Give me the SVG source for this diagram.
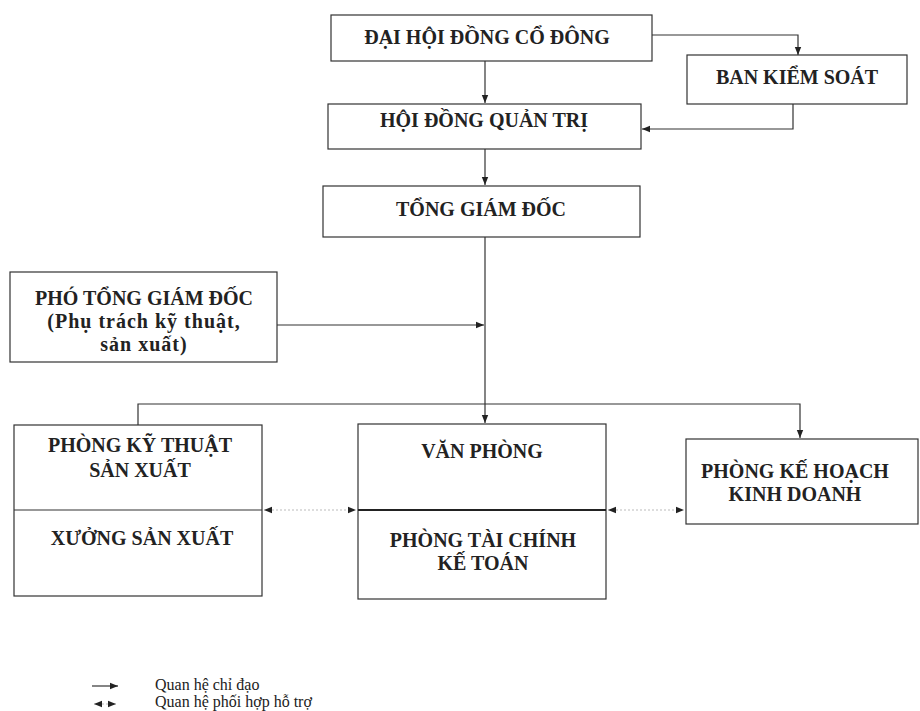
<svg xmlns="http://www.w3.org/2000/svg" width="920" height="711" viewBox="0 0 920 711">
<style>
.box{fill:#fff;stroke:#333;stroke-width:1.2}
.t{font-family:"Liberation Serif","DejaVu Serif",serif;font-weight:bold;font-size:20px;fill:#222;text-anchor:middle}
.l{font-family:"Liberation Serif","DejaVu Serif",serif;font-size:16px;fill:#222}
.c{fill:none;stroke:#333;stroke-width:1.2}
.d{fill:none;stroke:#bbb;stroke-width:1;stroke-dasharray:2 2}
</style>
<defs>
<marker id="a" viewBox="0 0 10 10" refX="10" refY="5" markerWidth="8" markerHeight="8" markerUnits="userSpaceOnUse" orient="auto"><path d="M0,1 L10,5 L0,9 Z" fill="#222"/></marker>
<marker id="s" viewBox="0 0 10 10" refX="0" refY="5" markerWidth="8" markerHeight="8" markerUnits="userSpaceOnUse" orient="auto"><path d="M10,1 L0,5 L10,9 Z" fill="#222"/></marker>
</defs>
<rect width="920" height="711" fill="#fff"/>
<g id="connectors">
<path class="c" d="M485,61 V103" marker-end="url(#a)"/>
<path class="c" d="M652,35 H798 V55" marker-end="url(#a)"/>
<path class="c" d="M793,104 V129 H642" marker-end="url(#a)"/>
<path class="c" d="M485,149 V185" marker-end="url(#a)"/>
<path class="c" d="M485,237 V423" marker-end="url(#a)"/>
<path class="c" d="M277,325 H484" marker-end="url(#a)"/>
<path class="c" d="M138,425 V404 H800 V438" marker-end="url(#a)"/>
<path class="d" d="M264,510 H356" marker-start="url(#s)" marker-end="url(#a)"/>
<path class="d" d="M608,510 H684" marker-start="url(#s)" marker-end="url(#a)"/>
</g>
<g id="dhdcd"><rect class="box" x="331" y="15" width="321" height="46"/><text class="t" x="487" y="44">ĐẠI HỘI ĐỒNG CỔ ĐÔNG</text></g>
<g id="bks"><rect class="box" x="687" y="55" width="220" height="49"/><text class="t" x="797" y="84">BAN KIỂM SOÁT</text></g>
<g id="hdqt"><rect class="box" x="328" y="104" width="313" height="45"/><text class="t" x="484" y="127">HỘI ĐỒNG QUẢN TRỊ</text></g>
<g id="tgd"><rect class="box" x="323" y="186" width="317" height="51"/><text class="t" x="481" y="216">TỔNG GIÁM ĐỐC</text></g>
<g id="ptgd"><rect class="box" x="10" y="272" width="267" height="90"/><text class="t" x="144" y="305">PHÓ TỔNG GIÁM ĐỐC</text><text class="t" x="144" y="328" letter-spacing="1">(Phụ trách kỹ thuật,</text><text class="t" x="144" y="351" letter-spacing="1">sản xuất)</text></g>
<g id="pkt"><rect class="box" x="14" y="425" width="248" height="171"/><line class="c" x1="14" y1="510" x2="262" y2="510"/><text class="t" x="140" y="452">PHÒNG KỸ THUẬT</text><text class="t" x="140" y="477">SẢN XUẤT</text><text class="t" x="142" y="545">XƯỞNG SẢN XUẤT</text></g>
<g id="vp"><rect class="box" x="358" y="424" width="248" height="175"/><line x1="358" y1="510" x2="606" y2="510" stroke="#222" stroke-width="2"/><text class="t" x="482" y="458">VĂN PHÒNG</text><text class="t" x="483" y="547">PHÒNG TÀI CHÍNH</text><text class="t" x="483" y="570">KẾ TOÁN</text></g>
<g id="pkhkd"><rect class="box" x="686" y="439" width="232" height="85"/><text class="t" x="795" y="478">PHÒNG KẾ HOẠCH</text><text class="t" x="795" y="501">KINH DOANH</text></g>
<g id="legend">
<path class="c" d="M92,686 H118" marker-end="url(#a)"/>
<path class="d" d="M94,704 H116" marker-start="url(#s)" marker-end="url(#a)"/>
<text class="l" x="155" y="690">Quan hệ chỉ đạo</text>
<text class="l" x="155" y="707">Quan hệ phối hợp hỗ trợ</text>
</g>
</svg>
